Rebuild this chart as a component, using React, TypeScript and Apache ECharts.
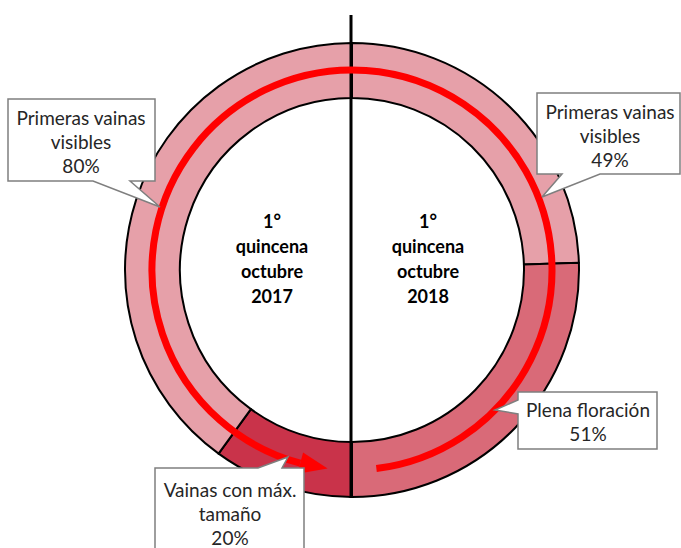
import React, { useEffect, useRef } from "react";
import * as echarts from "echarts";

// Data
const labels2018 = ["Primeras vainas\nvisibles", "Plena floración"];
const values2018 = [49, 51];
const labels2017 = ["Vainas con máx.\ntamaño", "Primeras vainas\nvisibles"];
const values2017 = [20, 80];
const centerTexts = ["1°\nquincena\noctubre\n2017", "1°\nquincena\noctubre\n2018"];

const COLORS = {
  light: "#E6A0A9",
  plena: "#D96A78",
  dark: "#C9334A",
};

export default function App() {
  const ref = useRef<HTMLDivElement>(null);
  useEffect(() => {
    if (!ref.current) return;
    const chart = echarts.init(ref.current, null, { renderer: "svg" });
    const cx = 352;
    const cy = 270;
    const rArrow = 200;
    const deg = Math.PI / 180;
    const pt = (fromBottomDeg: number, r: number): [number, number] => [
      cx - r * Math.sin(fromBottomDeg * deg),
      cy + r * Math.cos(fromBottomDeg * deg),
    ];
    const font = "Lato, 'Open Sans', sans-serif";
    const calloutStyle = { fill: "#ffffff", stroke: "#7F7F7F", lineWidth: 1.5 };
    const txt = (x: number, y: number, text: string) => ({
      type: "text",
      x,
      y,
      z: 20,
      style: {
        text,
        fill: "#262626",
        font: `19px ${font}`,
        align: "center",
        verticalAlign: "top",
        lineHeight: 24,
      },
    });

    const option: any = {
      animation: false,
      backgroundColor: "#ffffff",
      series: [
        {
          type: "pie",
          center: [cx, cy],
          radius: [172, 227],
          startAngle: 90,
          clockwise: true,
          silent: true,
          label: { show: false },
          labelLine: { show: false },
          itemStyle: { borderColor: "#000000", borderWidth: 2 },
          emphasis: { disabled: true },
          data: [
            { name: "2018 " + labels2018[0], value: values2018[0], itemStyle: { color: COLORS.light } },
            { name: "2018 " + labels2018[1], value: values2018[1], itemStyle: { color: COLORS.plena } },
            { name: "2017 " + labels2017[0], value: values2017[0], itemStyle: { color: COLORS.dark } },
            { name: "2017 " + labels2017[1], value: values2017[1], itemStyle: { color: COLORS.light } },
          ],
        },
      ],
      graphic: [
        {
          type: "line",
          z: 10,
          shape: { x1: 351, y1: 15, x2: 351, y2: 498 },
          style: { stroke: "#000000", lineWidth: 3 },
        },
        {
          type: "arc",
          z: 12,
          shape: {
            cx,
            cy,
            r: rArrow,
            startAngle: Math.PI / 2 + 15 * deg,
            endAngle: Math.PI / 2 - 7 * deg + 2 * Math.PI,
            clockwise: true,
          },
          style: { stroke: "#FF0000", lineWidth: 7, fill: null, lineCap: "butt" },
        },
        {
          type: "polygon",
          z: 12,
          shape: { points: [pt(15, 189), pt(15, 211), pt(7, 200)] },
          style: { fill: "#FF0000" },
        },
        {
          type: "text",
          x: 272,
          y: 208,
          z: 15,
          style: {
            text: centerTexts[0],
            fill: "#000000",
            font: `bold 18px ${font}`,
            align: "center",
            verticalAlign: "top",
            lineHeight: 25,
          },
        },
        {
          type: "text",
          x: 428,
          y: 208,
          z: 15,
          style: {
            text: centerTexts[1],
            fill: "#000000",
            font: `bold 18px ${font}`,
            align: "center",
            verticalAlign: "top",
            lineHeight: 25,
          },
        },
        {
          type: "polygon",
          z: 18,
          shape: {
            points: [[8, 99], [155, 99], [155, 181], [130, 181], [160, 207], [93, 181], [8, 181]],
          },
          style: calloutStyle,
        },
        txt(81, 105, `${labels2017[1]}\n${values2017[1]}%`),
        {
          type: "polygon",
          z: 18,
          shape: {
            points: [[537, 93], [680, 93], [680, 174], [600, 174], [542, 197], [562, 174], [537, 174]],
          },
          style: calloutStyle,
        },
        txt(610, 99, `${labels2018[0]}\n${values2018[0]}%`),
        {
          type: "polygon",
          z: 18,
          shape: {
            points: [[155, 468], [258, 468], [288, 457], [282, 468], [304, 468], [304, 560], [155, 560]],
          },
          style: calloutStyle,
        },
        txt(230, 477, `${labels2017[0]}\n${values2017[0]}%`),
        {
          type: "polygon",
          z: 18,
          shape: {
            points: [[518, 392], [657, 392], [657, 449], [518, 449], [518, 414], [495, 410], [518, 400]],
          },
          style: calloutStyle,
        },
        txt(588, 397, `${labels2018[1]}\n${values2018[1]}%`),
      ],
    };
    chart.setOption(option);
    return () => chart.dispose();
  }, []);
  return (
    <div
      ref={ref}
      style={{ position: "fixed", left: 0, top: 0, width: 681, height: 548 }}
    />
  );
}
